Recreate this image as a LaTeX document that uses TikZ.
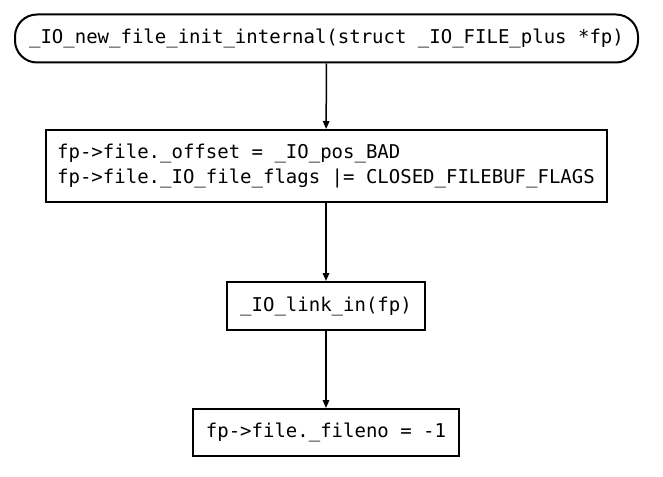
\documentclass[tikz,border=0pt]{standalone}
\usepackage{fontspec}
\newfontfamily\codefont{DejaVu Sans Mono}
\usetikzlibrary{arrows.meta}
\definecolor{ink}{gray}{0.0}

\begin{document}
\begin{tikzpicture}[x=1pt, y=-1pt, font=\codefont\fontsize{19}{25}\selectfont,
  stepbox/.style={draw=ink, line width=2pt, fill=white, inner xsep=11pt, minimum height=48pt},
  flow/.style={ink, line width=1.5pt, -{Triangle[length=8pt,width=6.5pt]}}]
  \useasboundingbox (0,0) rectangle (663,476);
  % boxes, top to bottom
  \node[stepbox, rounded corners=22pt, minimum width=623pt] (init) at (326.5,38.5)
    {\_IO\_new\_file\_init\_internal(struct \_IO\_FILE\_plus *fp)};
  \node[stepbox, minimum width=561pt, minimum height=72pt, align=left] (flags) at (326,166)
    {fp->file.\_offset = \_IO\_pos\_BAD\\fp->file.\_IO\_file\_flags |= CLOSED\_FILEBUF\_FLAGS};
  \node[stepbox, minimum width=198pt] (link) at (326,306) {\_IO\_link\_in(fp)};
  \node[stepbox, minimum width=266pt, minimum height=47pt] (fileno) at (326,432.5) {fp->file.\_fileno = -1};
  % connectors
  \draw[flow] (init) -- (flags);
  \draw[flow] (flags) -- (link);
  \draw[flow] (link) -- (fileno);
\end{tikzpicture}
\end{document}
